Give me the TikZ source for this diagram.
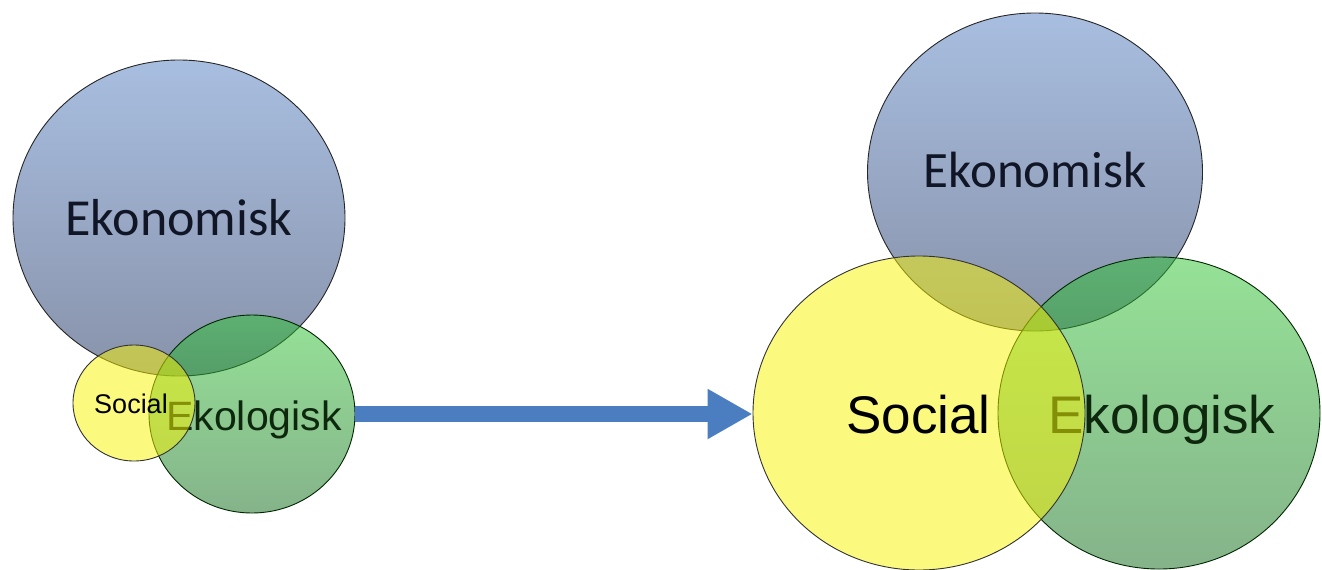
\documentclass[tikz,border=0pt]{standalone}
\usepackage{fontspec}
\usetikzlibrary{shapes.geometric,arrows.meta}
\newfontfamily\carlitofont{Carlito}
\newfontfamily\arialfont{Liberation Sans}
\definecolor{bluetop}{RGB}{168,190,224}
\definecolor{bluemid}{RGB}{160,179,211}
\definecolor{bluebot}{RGB}{136,146,170}
\definecolor{greentop}{RGB}{45,198,48}
\definecolor{greenbot}{RGB}{12,104,22}
\definecolor{yel}{RGB}{250,244,0}
\definecolor{arrowblue}{RGB}{74,126,192}
\definecolor{ekotext}{RGB}{16,22,38}
\definecolor{ekoltext}{RGB}{14,40,14}
\tikzset{
  ekocircle/.style={ellipse, inner sep=0pt, draw=black!85, line width=0.9pt,
    top color=bluetop, middle color=bluemid, bottom color=bluebot},
  ekolcircle/.style={ellipse, inner sep=0pt, draw=black!75!green!60!black, line width=0.9pt,
    top color=greentop, bottom color=greenbot, fill opacity=0.5, draw opacity=1},
  soccircle/.style={ellipse, inner sep=0pt, draw=black!80, line width=0.9pt,
    fill=yel, fill opacity=0.5, draw opacity=1},
  lbl/.style={anchor=base, inner sep=0pt, text=black},
  bigarrow/.style={line width=16pt, draw=arrowblue, -{Triangle[length=45pt,width=47pt]}}
}
\begin{document}
\begin{tikzpicture}[x=1pt,y=-1pt]
\clip (0,0) rectangle (1322,570);
\fill[white] (0,0) rectangle (1322,570);
% left group
\node[ekocircle, minimum width=332pt, minimum height=316pt] (ekoL) at (179,218) {};
\node[lbl, text=ekotext] (ekoLt) at (179,235) {\carlitofont\fontsize{52}{60}\selectfont Ekonomisk};
\node[ekolcircle, minimum width=206pt, minimum height=198pt] (ekolL) at (252,414) {};
\node[lbl, text=ekoltext] (ekolLt) at (254,430) {\arialfont\fontsize{41}{48}\selectfont Ekologisk};
\node[soccircle, minimum width=122pt, minimum height=116pt] (socL) at (134,403) {};
\node[lbl] (socLt) at (131,413) {\arialfont\fontsize{27}{32}\selectfont Social};
% right group
\node[ekocircle, minimum width=335pt, minimum height=318pt] (ekoR) at (1035,172) {};
\node[lbl, text=ekotext] (ekoRt) at (1035,187) {\carlitofont\fontsize{51}{60}\selectfont Ekonomisk};
\node[ekolcircle, minimum width=322pt, minimum height=312pt] (ekolR) at (1159,413) {};
\node[lbl, text=ekoltext] (ekolRt) at (1162,433) {\arialfont\fontsize{53}{60}\selectfont Ekologisk};
\node[soccircle, minimum width=332pt, minimum height=314pt] (socR) at (919,413) {};
\node[lbl] (socRt) at (918.5,433) {\arialfont\fontsize{53}{60}\selectfont Social};
% arrow
\draw[bigarrow] (ekolL.east) -- (ekolL.east -| socR.west);
\end{tikzpicture}
\end{document}
